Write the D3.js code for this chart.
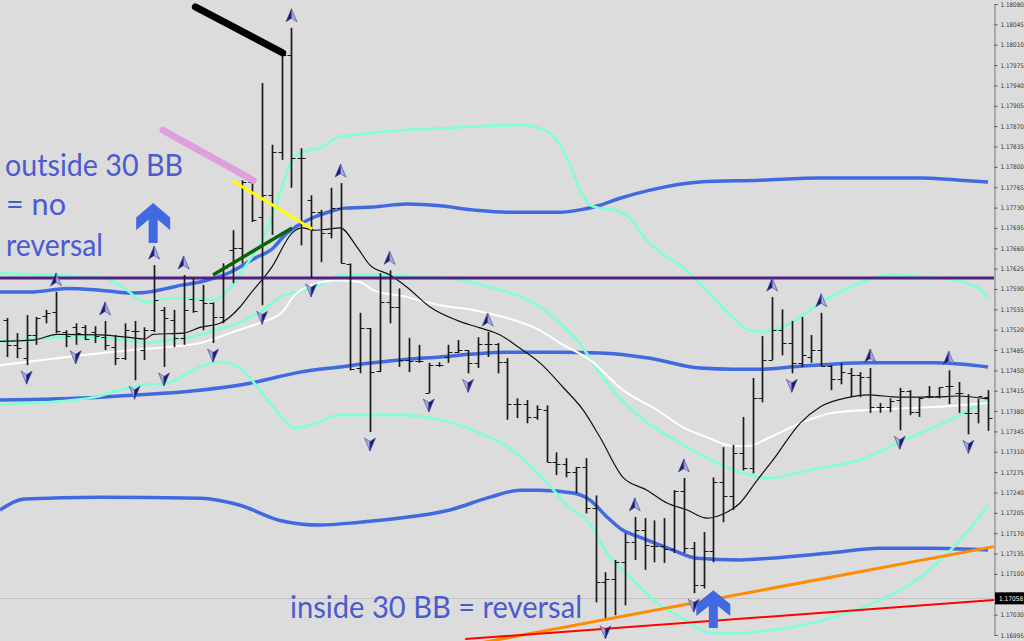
<!DOCTYPE html>
<html><head><meta charset="utf-8">
<script src="https://cdn.jsdelivr.net/npm/d3@7"></script>
<style>
html,body{margin:0;padding:0;background:#dcdcdc;overflow:hidden}
svg{display:block}
</style></head><body>
<svg id="chart" width="1024" height="641"></svg>
<script>
// ---------- DATA ----------
const barOpen = [1.17536,1.17494,1.17471,1.17511,1.17543,1.17550,1.17516,1.17524,1.17524,1.17516,
1.17507,1.17490,1.17471,1.17518,1.17485,1.17519,1.17554,1.17536,1.17506,1.17573,
1.17571,1.17566,1.17542,1.17657,1.17660,1.17774,1.17714,1.17751,1.17825,1.17992,
1.17815,1.17743,1.17722,1.17686,1.17729,1.17633,1.17454,1.17523,1.17449,1.17567,
1.17559,1.17468,1.17466,1.17411,1.17459,1.17473,1.17481,1.17485,1.17463,1.17495,
1.17495,1.17464,1.17392,1.17392,1.17370,1.17382,1.17292,1.17289,1.17275,1.17284,
1.17213,1.17086,1.17091,1.17120,1.17155,1.17175,1.17148,1.17148,1.17143,1.17242,
1.17144,1.17081,1.17139,1.17258,1.17234,1.17308,1.17282,1.17402,1.17468,1.17519,
1.17497,1.17463,1.17473,1.17485,1.17457,1.17435,1.17445,1.17442,1.17438,1.17387,
1.17387,1.17399,1.17414,1.17378,1.17406,1.17406,1.17423,1.17411,1.17377,1.17377,1.17404];
const barHigh = [1.17540,1.17514,1.17545,1.17542,1.17554,1.17585,1.17519,1.17531,1.17528,1.17526,
1.17535,1.17511,1.17531,1.17535,1.17524,1.17631,1.17559,1.17554,1.17614,1.17609,
1.17597,1.17567,1.17634,1.17691,1.17777,1.17777,1.17944,1.17838,1.17996,1.18039,
1.17832,1.17751,1.17726,1.17764,1.17772,1.17634,1.17549,1.17523,1.17617,1.17622,
1.17591,1.17506,1.17494,1.17463,1.17464,1.17494,1.17502,1.17485,1.17507,1.17516,
1.17497,1.17471,1.17402,1.17399,1.17390,1.17390,1.17309,1.17299,1.17284,1.17299,
1.17235,1.17103,1.17124,1.17170,1.17198,1.17196,1.17192,1.17196,1.17244,1.17265,
1.17155,1.17172,1.17266,1.17318,1.17322,1.17370,1.17437,1.17509,1.17576,1.17555,
1.17535,1.17542,1.17511,1.17549,1.17459,1.17463,1.17454,1.17447,1.17454,1.17394,
1.17402,1.17420,1.17416,1.17404,1.17423,1.17421,1.17450,1.17430,1.17409,1.17401,1.17416];
const barLow = [1.17473,1.17471,1.17459,1.17494,1.17531,1.17514,1.17490,1.17494,1.17502,1.17497,
1.17485,1.17459,1.17468,1.17433,1.17468,1.17516,1.17456,1.17490,1.17494,1.17549,
1.17519,1.17497,1.17531,1.17600,1.17634,1.17705,1.17562,1.17683,1.17812,1.17764,
1.17665,1.17609,1.17636,1.17677,1.17634,1.17450,1.17445,1.17344,1.17447,1.17531,
1.17456,1.17447,1.17463,1.17411,1.17456,1.17463,1.17480,1.17445,1.17454,1.17473,
1.17445,1.17365,1.17368,1.17359,1.17365,1.17292,1.17270,1.17266,1.17239,1.17204,
1.17051,1.17021,1.17029,1.17046,1.17124,1.17107,1.17120,1.17119,1.17136,1.17136,
1.17067,1.17075,1.17120,1.17189,1.17210,1.17278,1.17273,1.17395,1.17468,1.17476,
1.17445,1.17456,1.17463,1.17457,1.17416,1.17426,1.17404,1.17404,1.17377,1.17377,
1.17378,1.17347,1.17373,1.17370,1.17402,1.17402,1.17392,1.17377,1.17340,1.17359,1.17346];
const barClose = [1.17494,1.17488,1.17511,1.17540,1.17549,1.17518,1.17509,1.17514,1.17504,1.17509,
1.17494,1.17471,1.17519,1.17518,1.17519,1.17571,1.17540,1.17506,1.17554,1.17552,
1.17566,1.17542,1.17626,1.17660,1.17774,1.17708,1.17751,1.17825,1.17992,1.17815,
1.17815,1.17722,1.17686,1.17729,1.17634,1.17452,1.17523,1.17447,1.17567,1.17559,
1.17468,1.17466,1.17466,1.17459,1.17459,1.17481,1.17485,1.17463,1.17495,1.17495,
1.17464,1.17392,1.17392,1.17370,1.17383,1.17292,1.17289,1.17275,1.17284,1.17213,
1.17086,1.17091,1.17120,1.17155,1.17175,1.17150,1.17148,1.17143,1.17242,1.17144,
1.17081,1.17139,1.17258,1.17234,1.17308,1.17282,1.17402,1.17468,1.17519,1.17497,
1.17463,1.17476,1.17485,1.17457,1.17435,1.17447,1.17442,1.17438,1.17387,1.17387,
1.17397,1.17414,1.17378,1.17402,1.17406,1.17421,1.17423,1.17411,1.17377,1.17406,1.17368];

const priceTicks = [1.18080,1.18045,1.18010,1.17975,1.17940,1.17905,1.17870,1.17835,1.17800,1.17765,
1.17730,1.17695,1.17660,1.17625,1.17590,1.17555,1.17520,1.17485,1.17450,1.17415,
1.17380,1.17345,1.17310,1.17275,1.17240,1.17205,1.17170,1.17135,1.17100,1.17065,1.17030,1.16995];

const fractalUp = [5,10,15,18,29,34,39,49,64,69,78,83,88,96];
const fractalDown = [2,7,13,16,21,26,31,37,43,47,61,70,80,91,98];

// indicator lines: [bar index, price]
const aquaUpper = [[-0.71,1.17617],[4.38,1.17614],[9.48,1.17610],[12.23,1.17588],[13.56,1.17571],[14.58,1.17567],
[16.31,1.17574],[19.67,1.17573],[21.2,1.17571],[22.53,1.17588],[24.26,1.17628],[26.0,1.17674],[27.01,1.17714],
[28.03,1.17765],[29.05,1.17812],[30.07,1.17825],[32.11,1.17834],[33.74,1.17851],[35.48,1.17855],[40.06,1.17863],
[45.16,1.17867],[52.3,1.17872],[54.84,1.17863],[56.37,1.17838],[57.39,1.17803],[58.41,1.17760],[59.43,1.17734],
[60.45,1.17729],[61.98,1.17726],[63.51,1.17712],[65.04,1.17677],[66.57,1.17653],[68.61,1.17631],[70.64,1.17600],
[71.97,1.17576],[73.7,1.17545],[75.74,1.17519],[76.96,1.17516],[79.82,1.17531],[82.88,1.17566],[85.94,1.17593],
[90.01,1.17614],[95.11,1.17609],[98.88,1.17593],[100.0,1.17574]];
const aquaMiddle = [[-0.71,1.17500],[2.65,1.17504],[6.12,1.17507],[9.48,1.17506],[12.84,1.17500],[14.27,1.17497],
[16.31,1.17502],[18.65,1.17507],[21.0,1.17518],[23.75,1.17533],[25.79,1.17550],[27.83,1.17576],[29.87,1.17586],
[31.91,1.17597],[34.15,1.17614],[35.98,1.17614],[44.14,1.17610],[49.24,1.17593],[54.33,1.17559],[56.37,1.17531],
[58.11,1.17502],[61.16,1.17428],[64.53,1.17370],[68.61,1.17325],[71.36,1.17299],[74.72,1.17275],[77.78,1.17265],
[80.84,1.17275],[83.9,1.17285],[86.95,1.17296],[91.03,1.17327],[96.13,1.17365],[100.0,1.17399]];
const aquaLower = [[-0.71,1.17392],[5.4,1.17397],[9.48,1.17406],[11.01,1.17414],[13.86,1.17425],[16.31,1.17428],
[18.35,1.17445],[19.67,1.17456],[21.71,1.17464],[23.75,1.17454],[25.79,1.17416],[27.83,1.17373],[29.36,1.17351],
[30.89,1.17356],[33.95,1.17373],[40.06,1.17373],[44.14,1.17365],[48.22,1.17342],[51.28,1.17316],[54.84,1.17261],
[57.39,1.17213],[59.13,1.17192],[61.16,1.17136],[63.51,1.17094],[66.26,1.17050],[68.61,1.17026],[71.97,1.16998],
[74.0,1.16998],[77.78,1.17003],[83.9,1.17024],[89.0,1.17055],[93.07,1.17094],[97.15,1.17158],[100.0,1.17218]];
const blueUpper = [[-0.71,1.17585],[2.65,1.17585],[6.12,1.17591],[9.48,1.17588],[12.84,1.17583],[14.58,1.17585],
[16.31,1.17591],[17.94,1.17597],[19.67,1.17602],[22.53,1.17617],[25.28,1.17643],[27.12,1.17660],[28.34,1.17683],
[29.36,1.17696],[31.09,1.17712],[32.72,1.17722],[34.46,1.17729],[37.31,1.17731],[40.78,1.17736],[44.14,1.17733],
[47.5,1.17726],[50.97,1.17722],[56.37,1.17722],[58.41,1.17726],[60.45,1.17734],[62.49,1.17746],[65.55,1.17760],
[70.64,1.17774],[76.76,1.17777],[82.88,1.17781],[88.99,1.17781],[93.07,1.17781],[97.15,1.17777],[100.0,1.17774]];
const blueMiddle = [[-0.71,1.17399],[9.48,1.17404],[16.31,1.17411],[19.67,1.17416],[24.77,1.17428],[29.87,1.17447],
[33.95,1.17456],[37.31,1.17463],[40.78,1.17469],[44.14,1.17473],[47.5,1.17478],[50.97,1.17481],[56.37,1.17481],
[60.45,1.17480],[65.55,1.17471],[70.64,1.17454],[74.0,1.17452],[76.76,1.17452],[80.84,1.17457],[87.67,1.17463],
[94.4,1.17463],[100.0,1.17456]];
const blueLower = [[-0.71,1.17210],[1.83,1.17229],[9.48,1.17232],[19.67,1.17230],[23.75,1.17218],[27.83,1.17192],
[31.91,1.17184],[35.98,1.17189],[40.06,1.17196],[45.16,1.17210],[49.24,1.17232],[52.3,1.17244],[54.33,1.17244],
[57.7,1.17239],[59.43,1.17227],[61.16,1.17198],[62.79,1.17175],[64.53,1.17163],[67.89,1.17141],[70.34,1.17127],
[74.72,1.17124],[77.78,1.17127],[83.9,1.17136],[89.0,1.17144],[94.09,1.17144],[100.0,1.17141]];
const whiteLine = [[-0.71,1.17459],[6.12,1.17473],[12.84,1.17485],[16.31,1.17490],[19.67,1.17497],[23.55,1.17519],
[26.0,1.17533],[28.03,1.17550],[29.36,1.17580],[31.09,1.17597],[33.74,1.17605],[35.98,1.17602],[37.31,1.17588],
[40.78,1.17576],[44.14,1.17562],[47.5,1.17554],[50.97,1.17540],[54.33,1.17519],[56.37,1.17497],[59.43,1.17468],
[62.79,1.17416],[66.26,1.17382],[68.91,1.17352],[71.36,1.17335],[74.0,1.17320],[75.43,1.17320],[77.78,1.17335],
[80.84,1.17359],[84.2,1.17377],[87.67,1.17382],[94.4,1.17387],[100.0,1.17394]];
const blackLine = [[-0.71,1.17500],[2.65,1.17502],[5.1,1.17512],[9.48,1.17511],[12.84,1.17506],[14.07,1.17504],
[14.89,1.17512],[17.94,1.17514],[19.67,1.17524],[21.71,1.17531],[23.75,1.17559],[24.77,1.17581],[27.01,1.17628],
[29.05,1.17686],[30.07,1.17695],[31.4,1.17691],[32.72,1.17693],[33.95,1.17695],[35.68,1.17662],[37.0,1.17631],
[39.04,1.17614],[40.78,1.17593],[43.12,1.17559],[45.87,1.17536],[48.22,1.17523],[50.26,1.17511],[52.3,1.17488],
[54.33,1.17463],[56.68,1.17421],[58.72,1.17382],[60.45,1.17335],[62.79,1.17266],[65.24,1.17244],[67.28,1.17222],
[69.32,1.17210],[71.36,1.17196],[72.69,1.17201],[74.72,1.17222],[76.46,1.17261],[78.09,1.17296],[80.84,1.17359],
[82.88,1.17387],[85.94,1.17404],[87.67,1.17408],[91.03,1.17404],[94.4,1.17404],[96.85,1.17406],[100.0,1.17401]];

const levelPurple = 1.17609;
const lastPrice = 1.17058;
const trendBlack  = [[19.2,1.18075],[28.1,1.17996]];
const trendPlum   = [[15.9,1.17863],[25.1,1.17777]];
const trendYellow = [[23.0,1.17776],[31.1,1.17693]];
const trendGreen  = [[21.0,1.17614],[29.05,1.17695]];
const trendOrange = [[47.2,1.16978],[100.6,1.17147]];
const trendRed    = [[46.7,1.16988],[100.6,1.17055]];
// big blue arrows: [bar index, base price, tip price]
const bigArrows = [[14.9,1.17669,1.17738],[72.0,1.17007,1.17072]];
const notes = ["outside 30 BB","= no","reversal","inside 30 BB = reversal"];

// ---------- DRAW ----------
const W = 1024, H = 641, plotR = 994;
const svg = d3.select("#chart");
const x = d3.scaleLinear().domain([0,100]).range([7,988]);
const y = d3.scaleLinear().domain([1.16995,1.18080]).range([635,4]);

svg.append("rect").attr("width",W).attr("height",H).attr("fill","#dcdcdc");
svg.append("defs").append("clipPath").attr("id","clip")
  .append("rect").attr("x",0).attr("y",0).attr("width",plotR).attr("height",H);
const g = svg.append("g").attr("clip-path","url(#clip)");

// last price line
g.append("line").attr("x1",0).attr("x2",plotR).attr("y1",Math.round(y(lastPrice))+0.5).attr("y2",Math.round(y(lastPrice))+0.5)
  .attr("stroke","#c4c4c4").attr("stroke-width",1);

const line = d3.line().x(d=>x(d[0])).y(d=>y(d[1])).curve(d3.curveMonotoneX);
const ind = [
  [blueLower,"#4169e1",3.5],[blueMiddle,"#4169e1",3.5],[blueUpper,"#4169e1",3.5],
  [aquaLower,"#7fffd4",2.6],[aquaMiddle,"#7fffd4",2.6],[aquaUpper,"#7fffd4",2.6],
  [whiteLine,"#ffffff",2],[blackLine,"#111111",1.2]
];
ind.forEach(([d,c,w])=>{
  g.append("path").datum(d).attr("d",line).attr("fill","none").attr("stroke",c).attr("stroke-width",w)
   .attr("stroke-linejoin","round");
});

// purple horizontal level
g.append("line").attr("x1",0).attr("x2",plotR).attr("y1",y(levelPurple)).attr("y2",y(levelPurple))
  .attr("stroke","#52208a").attr("stroke-width",3);

// OHLC bars
const bars = d3.range(barOpen.length).map(i=>({i,o:barOpen[i],h:barHigh[i],l:barLow[i],c:barClose[i]}));
const bg = g.append("g").attr("stroke","#1a1a1a");
bars.forEach(b=>{
  const bx = Math.round(x(b.i))+0.5;
  bg.append("line").attr("x1",bx).attr("x2",bx).attr("y1",y(b.h)).attr("y2",y(b.l)).attr("stroke-width",1.7);
  bg.append("line").attr("x1",bx-4).attr("x2",bx).attr("y1",Math.round(y(b.o))+0.5).attr("y2",Math.round(y(b.o))+0.5).attr("stroke-width",1);
  bg.append("line").attr("x1",bx).attr("x2",bx+4).attr("y1",Math.round(y(b.c))+0.5).attr("y2",Math.round(y(b.c))+0.5).attr("stroke-width",1);
});

// trend lines
const seg = d3.line().x(d=>x(d[0])).y(d=>y(d[1]));
[[trendOrange,"#ff8c00",3,"butt"],[trendRed,"#ff0000",2,"butt"],[trendPlum,"#dda0dd",7,"round"],
 [trendBlack,"#000000",7,"round"],[trendGreen,"#0a640a",3.5,"butt"],[trendYellow,"#ffff00",3,"butt"]]
 .forEach(([d,c,w,cap])=>{
   g.append("path").datum(d).attr("d",seg).attr("fill","none").attr("stroke",c).attr("stroke-width",w).attr("stroke-linecap",cap);
 });

// fractal arrows
function fractal(cx,cy,up){
  const s = up?1:-1;
  const t = g.append("g").attr("transform",`translate(${cx},${cy}) scale(1,${s})`);
  t.append("path").attr("d","M0,-7 L-5.5,6 L0,2.5 Z").attr("fill", up?"#1c1c70":"#a8aedc").attr("stroke","#3a3f95").attr("stroke-width",0.6);
  t.append("path").attr("d","M0,-7 L5.5,6 L0,2.5 Z").attr("fill", up?"#a8aedc":"#1c1c70").attr("stroke","#3a3f95").attr("stroke-width",0.6);
}
fractalUp.forEach(i=>fractal(x(i),y(barHigh[i])-12,true));
fractalDown.forEach(i=>fractal(x(i),y(barLow[i])+12,false));

// big blue arrows
bigArrows.forEach(([i,base,tip])=>{
  const cx = x(i), ty = y(tip), by = y(base), h = by-ty, k = h/41;
  const pts = [[0,0],[17,15],[17,28],[4.5,17],[4.5,41],[-4.5,41],[-4.5,17],[-17,28],[-17,15]];
  g.append("path").attr("d","M"+pts.map(p=>[cx+p[0],ty+p[1]*k].join(",")).join("L")+"Z").attr("fill","#4169e1");
});

// notes
const nStyle = (t)=>t.attr("font-family","Lato, 'Open Sans', sans-serif").attr("font-size",31)
  .attr("fill","#4a5bd0").attr("lengthAdjust","spacingAndGlyphs");
nStyle(svg.append("text").attr("x",5).attr("y",176).attr("textLength",178).text(notes[0]));
nStyle(svg.append("text").attr("x",6).attr("y",215).attr("textLength",60).text(notes[1]));
nStyle(svg.append("text").attr("x",6).attr("y",256).attr("textLength",97).text(notes[2]));
nStyle(svg.append("text").attr("x",290).attr("y",618).attr("textLength",292).text(notes[3]));

// right price axis
const ax = svg.append("g").attr("transform",`translate(${plotR+0.5},0)`)
  .call(d3.axisRight(y).tickValues(priceTicks).tickFormat(d3.format(".5f")).tickSize(3).tickPadding(3));
ax.select(".domain").attr("stroke","#7a7a7a");
ax.selectAll(".tick line").attr("stroke","#555");
ax.selectAll(".tick text").attr("font-family","'DejaVu Sans Condensed','Liberation Sans',sans-serif")
  .attr("font-size",6.3).attr("fill","#333");

// last price label
const ly = y(lastPrice);
svg.append("rect").attr("x",plotR+1).attr("y",ly-6).attr("width",W-plotR-1).attr("height",12).attr("fill","#000");
svg.append("text").attr("x",plotR+5).attr("y",ly+3).attr("font-family","'DejaVu Sans Condensed','Liberation Sans',sans-serif")
  .attr("font-size",6.5).attr("fill","#fff").text(d3.format(".5f")(lastPrice));
</script>
</body></html>
